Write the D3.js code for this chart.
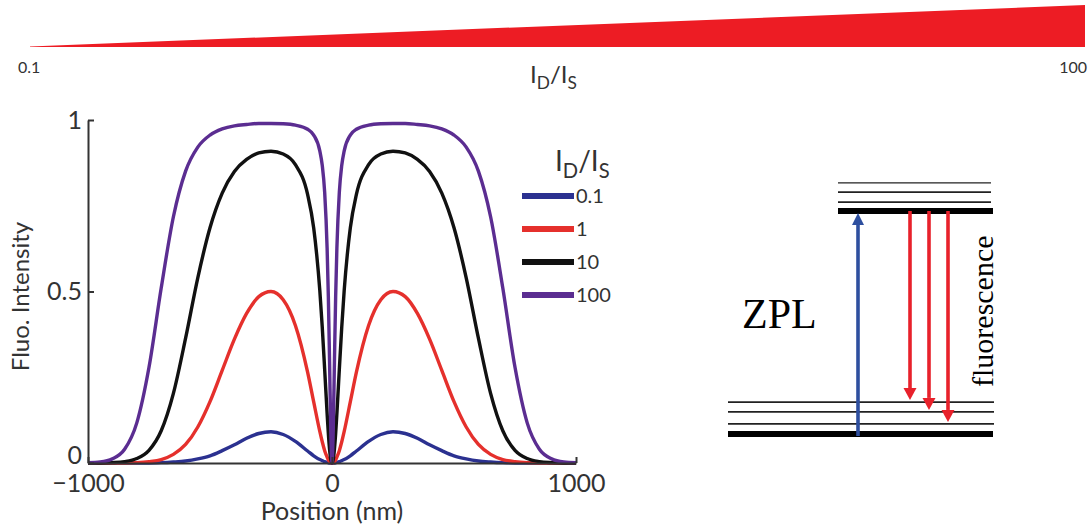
<!DOCTYPE html>
<html>
<head>
<meta charset="utf-8">
<script src="https://cdnjs.cloudflare.com/ajax/libs/d3/7.8.5/d3.min.js"></script>
<style>
body { margin: 0; background: #fff; }
svg text { font-family: Lato, "Open Sans", sans-serif; fill: #333; }
svg text.serif { font-family: "Liberation Serif", "Times New Roman", serif; fill: #000; }
</style>
</head>
<body>
<svg id="chart" width="1089" height="526"></svg>
<script>
// positions along the scan (nm)
var positions = [-1000, -950, -900, -850, -800, -750, -700, -650, -600, -550, -500, -450, -400, -350, -300, -250, -200, -150, -100, -75, -50, -40, -30, -20, -15, -10, -5, 0,
    5, 10, 15, 20, 30, 40, 50, 75, 100, 150, 200, 250, 300, 350, 400, 450, 500, 550, 600, 650, 700, 750, 800, 850, 900, 950, 1000];

var ratios = ["0.1", "1", "10", "100"];
var colors = ["#2b3190", "#e5302c", "#111111", "#5b2d91"];

var fluo_01 = [0, 0, 0, 0, 0, 0, 0.001, 0.003, 0.006, 0.012, 0.021, 0.036, 0.053, 0.072, 0.086, 0.091, 0.083, 0.063, 0.035, 0.021, 0.010, 0.007, 0.004, 0.002, 0.001, 0, 0, 0,
    0, 0, 0.001, 0.002, 0.004, 0.007, 0.010, 0.021, 0.035, 0.063, 0.083, 0.091, 0.086, 0.072, 0.053, 0.036, 0.021, 0.012, 0.006, 0.003, 0.001, 0, 0, 0, 0, 0, 0];
var fluo_1 = [0, 0, 0, 0, 0.001, 0.004, 0.010, 0.025, 0.054, 0.105, 0.179, 0.270, 0.361, 0.436, 0.485, 0.500, 0.476, 0.401, 0.265, 0.178, 0.092, 0.062, 0.036, 0.017, 0.009, 0.004, 0.001, 0,
    0.001, 0.004, 0.009, 0.017, 0.036, 0.062, 0.092, 0.178, 0.265, 0.401, 0.476, 0.500, 0.485, 0.436, 0.361, 0.270, 0.179, 0.105, 0.054, 0.025, 0.010, 0.004, 0.001, 0, 0, 0, 0];
var fluo_10 = [0, 0, 0.001, 0.004, 0.013, 0.037, 0.094, 0.203, 0.364, 0.540, 0.686, 0.787, 0.850, 0.885, 0.904, 0.909, 0.901, 0.870, 0.783, 0.685, 0.503, 0.397, 0.272, 0.144, 0.086, 0.040, 0.010, 0,
    0.010, 0.040, 0.086, 0.144, 0.272, 0.397, 0.503, 0.685, 0.783, 0.870, 0.901, 0.909, 0.904, 0.885, 0.850, 0.787, 0.686, 0.540, 0.364, 0.203, 0.094, 0.037, 0.013, 0.004, 0.001, 0, 0];
var fluo_100 = [0.001, 0.003, 0.012, 0.040, 0.117, 0.279, 0.510, 0.718, 0.851, 0.921, 0.956, 0.974, 0.983, 0.987, 0.990, 0.990, 0.989, 0.985, 0.973, 0.956, 0.910, 0.868, 0.789, 0.626, 0.486, 0.296, 0.095, 0,
    0.095, 0.296, 0.486, 0.626, 0.789, 0.868, 0.910, 0.956, 0.973, 0.985, 0.989, 0.990, 0.990, 0.987, 0.983, 0.974, 0.956, 0.921, 0.851, 0.718, 0.510, 0.279, 0.117, 0.040, 0.012, 0.003, 0.001];

var xTicks = [-1000, 0, 1000];
var yTicks = [0, 0.5, 1];

// wedge end values (I_D/I_S)
var wedgeRange = [0.1, 100];

// energy levels (ground state = 0, excited state = 1)
var groundVib = [0.045, 0.099, 0.143];
var excitedVib = [1.040, 1.085, 1.126];
var fluoTargets = [0.143, 0.099, 0.045];

var series = [fluo_01, fluo_1, fluo_10, fluo_100];

var svg = d3.select("#chart");

//////// top wedge
var xw = d3.scaleLog().domain(wedgeRange).range([30, 1085]);
var hw = d3.scaleLog().domain(wedgeRange).range([0.5, 42]);

svg.append("path")
    .datum(wedgeRange)
    .attr("d", function (d) {
        return "M" + xw(d[0]) + "," + (47 - hw(d[0])) +
            "L" + xw(d[1]) + "," + (47 - hw(d[1])) +
            "L" + xw(d[1]) + ",47" +
            "L" + xw(d[0]) + ",47Z";
    })
    .style("fill", "#ed1c24");

svg.append("text")
    .attr("x", 18).attr("y", 73)
    .style("font-size", "16px")
    .text("0.1");

svg.append("text")
    .attr("x", 1087).attr("y", 73)
    .attr("text-anchor", "end")
    .style("font-size", "16px")
    .text("100");

function ratio_label(g, x, y, size) {
    var t = g.append("text")
        .attr("x", x).attr("y", y)
        .style("font-size", size + "px");
    t.append("tspan").text("I");
    t.append("tspan").attr("dy", size * 0.25).style("font-size", (size * 0.72) + "px").text("D");
    t.append("tspan").attr("dy", -size * 0.25).text("/I");
    t.append("tspan").attr("dy", size * 0.25).style("font-size", (size * 0.72) + "px").text("S");
    return t;
}

ratio_label(svg, 530, 83, 24);

//////// fluorescence plot
var x = d3.scaleLinear().domain([-1000, 1000]).range([88, 576]);
var y = d3.scaleLinear().domain([0, 1]).range([463, 120]);

var line = d3.line()
    .x(function (d, i) { return x(positions[i]); })
    .y(function (d) { return y(d); })
    .curve(d3.curveMonotoneX);

svg.append("g")
    .selectAll(".curve")
    .data(series)
    .enter()
    .append("path")
    .attr("class", "curve")
    .attr("d", line)
    .style("fill", "none")
    .style("stroke", function (d, i) { return colors[i]; })
    .style("stroke-width", 3.4);

var gx = svg.append("g")
    .attr("transform", "translate(0," + y(0) + ")")
    .call(d3.axisBottom(x).tickValues(xTicks).tickFormat(d3.format("")).tickSizeInner(-6).tickSizeOuter(0).tickPadding(11));

var gy = svg.append("g")
    .attr("transform", "translate(" + x(-1000) + ",0)")
    .call(d3.axisLeft(y).tickValues(yTicks).tickFormat(d3.format("")).tickSizeInner(-6).tickSizeOuter(0).tickPadding(6));

[gx, gy].forEach(function (g) {
    g.select(".domain").style("stroke", "#333").style("stroke-width", 2);
    g.selectAll(".tick line").style("stroke", "#333").style("stroke-width", 2);
    g.selectAll(".tick text").style("font-family", "Lato, sans-serif").style("font-size", "25px").style("fill", "#333");
});

// lift the "0" a little so it clears the -1000 label
gy.selectAll(".tick text")
    .filter(function (d) { return d === 0; })
    .attr("y", -8);

svg.append("text")
    .attr("transform", "translate(29," + ((y(0) + y(1)) / 2 + 5) + ") rotate(-90)")
    .attr("text-anchor", "middle")
    .style("font-size", "24px")
    .text("Fluo. Intensity");

svg.append("text")
    .attr("x", x(0)).attr("y", 520)
    .attr("text-anchor", "middle")
    .style("font-size", "25px")
    .text("Position (nm)");

//////// legend
var ly = d3.scalePoint().domain(ratios).range([196, 295]);

ratio_label(svg, 555, 171, 28);

var legend = svg.append("g")
    .selectAll(".legend_item")
    .data(ratios)
    .enter()
    .append("g")
    .attr("class", "legend_item")
    .attr("transform", function (d) { return "translate(0," + ly(d) + ")"; });

legend.append("line")
    .attr("x1", 522).attr("x2", 574)
    .style("stroke", function (d, i) { return colors[i]; })
    .style("stroke-width", 6);

legend.append("text")
    .attr("x", 576)
    .attr("dy", "0.36em")
    .style("font-size", "20px")
    .text(function (d) { return d; });

//////// energy level diagram
var yE = d3.scaleLinear().domain([0, 1]).range([434, 211]);
var arrowX = d3.scalePoint().domain(fluoTargets).range([910, 948]);

var diagram = svg.append("g");

diagram.selectAll(".vib_ground")
    .data(groundVib)
    .enter()
    .append("line")
    .attr("x1", 728).attr("x2", 994)
    .attr("y1", function (d) { return yE(d); })
    .attr("y2", function (d) { return yE(d); })
    .style("stroke", "#222").style("stroke-width", 1.8);

diagram.selectAll(".vib_excited")
    .data(excitedVib)
    .enter()
    .append("line")
    .attr("x1", 838).attr("x2", 991)
    .attr("y1", function (d) { return yE(d); })
    .attr("y2", function (d) { return yE(d); })
    .style("stroke", "#222").style("stroke-width", function (d, i) { return i === 2 ? 1.3 : 1.8; });

diagram.append("line")
    .attr("x1", 728).attr("x2", 993)
    .attr("y1", yE(0)).attr("y2", yE(0))
    .style("stroke", "#000").style("stroke-width", 6);

diagram.append("line")
    .attr("x1", 838).attr("x2", 993)
    .attr("y1", yE(1)).attr("y2", yE(1))
    .style("stroke", "#000").style("stroke-width", 6);

function arrow(g, ax, from, to, color, headW, headL) {
    var dir = to < from ? -1 : 1;
    g.append("line")
        .attr("x1", ax).attr("x2", ax)
        .attr("y1", from).attr("y2", to - dir * headL)
        .style("stroke", color).style("stroke-width", 3.6);
    g.append("path")
        .attr("d", "M" + (ax - headW / 2) + "," + (to - dir * headL) + "L" + ax + "," + to + "L" + (ax + headW / 2) + "," + (to - dir * headL) + "Z")
        .style("fill", color);
}

arrow(diagram, 858, yE(0) + 2, yE(1) + 2, "#2e4f9f", 12, 12);

fluoTargets.forEach(function (e) {
    arrow(diagram, arrowX(e), yE(1), yE(e) - 2, "#e8212b", 13, 12);
});

diagram.append("text")
    .attr("class", "serif")
    .attr("x", 742).attr("y", 328)
    .style("font-size", "42px")
    .text("ZPL");

diagram.append("text")
    .attr("class", "serif")
    .attr("transform", "translate(993,387) rotate(-90)")
    .style("font-size", "30px")
    .text("fluorescence");
</script>
</body>
</html>
